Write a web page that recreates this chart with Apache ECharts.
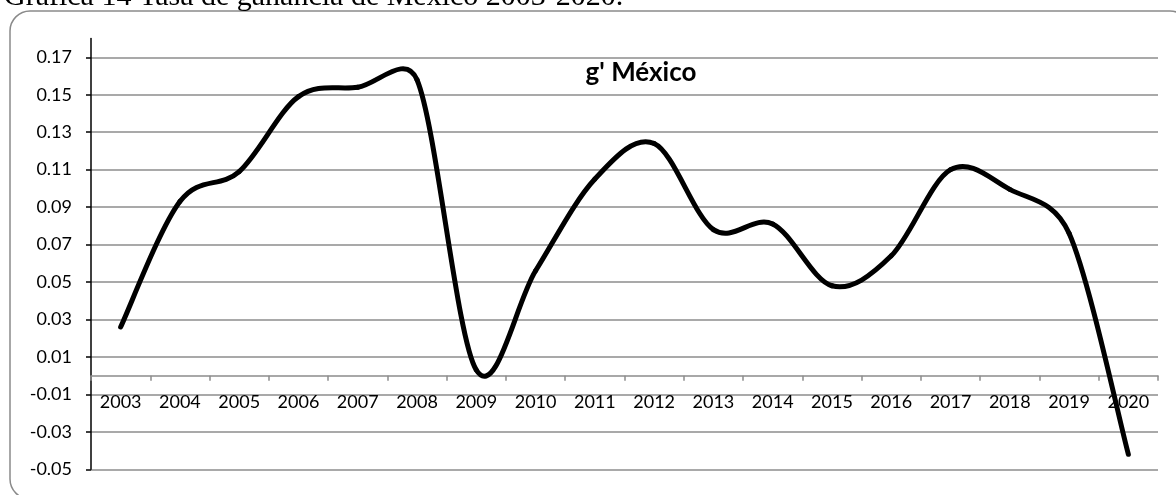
<!DOCTYPE html>
<html>
<head>
<meta charset="utf-8">
<script src="https://cdn.jsdelivr.net/npm/echarts@6/dist/echarts.min.js"></script>
<style>
  html, body { margin: 0; padding: 0; background: #ffffff; }
  #chart { width: 1176px; height: 495px; }
</style>
</head>
<body>
<div id="chart"></div>
<script>
// Profit rate for Mexico, yearly
const years = ['2003', '2004', '2005', '2006', '2007', '2008', '2009', '2010', '2011',
               '2012', '2013', '2014', '2015', '2016', '2017', '2018', '2019', '2020'];
const profitRate = [0.026, 0.093, 0.109, 0.149, 0.154, 0.158, 0.003, 0.056, 0.105,
                    0.124, 0.078, 0.081, 0.048, 0.064, 0.110, 0.0995, 0.076, -0.042];
const yTicks = [-0.05, -0.03, -0.01, 0.01, 0.03, 0.05, 0.07, 0.09, 0.11, 0.13, 0.15, 0.17];

const captionText = 'Gráfica 14 Tasa de ganancia de México 2003-2020.';
const seriesTitle = "g' México";

const Y_MIN = -0.05, Y_MAX = 0.18;
const GRID = { left: 91, right: 18, top: 38.6, bottom: 25.7 };
const H = 495;
// lift the category axis so it crosses the value axis at zero
const plotHeight = H - GRID.top - GRID.bottom;
const zeroOffset = -((0 - Y_MIN) / (Y_MAX - Y_MIN)) * plotHeight;

const chart = echarts.init(document.getElementById('chart'), null, { renderer: 'canvas' });

const labelFont = { fontFamily: 'Lato', fontSize: 18, color: '#000000' };

// Smoothed line: cubic Bezier segments through every point, tangent taken from
// the two neighbours (1/6 of their distance), limited to half of each segment.
function pt(api, i) {
  const k = Math.max(0, Math.min(profitRate.length - 1, i));
  return api.coord([k, profitRate[k]]);
}
function ctrl(p, d, seg, sign) {
  let dx = d[0] / 6, dy = d[1] / 6;
  const len = Math.hypot(dx, dy);
  const lim = seg / 2;
  if (len > lim && len > 0) { dx *= lim / len; dy *= lim / len; }
  return [p[0] + sign * dx, p[1] + sign * dy];
}
function renderSegment(params, api) {
  const i = params.dataIndex;
  if (i >= profitRate.length - 1) return null;
  const p0 = pt(api, i - 1), p1 = pt(api, i), p2 = pt(api, i + 1), p3 = pt(api, i + 2);
  const seg = Math.hypot(p2[0] - p1[0], p2[1] - p1[1]);
  const c1 = ctrl(p1, [p2[0] - p0[0], p2[1] - p0[1]], seg, 1);
  const c2 = ctrl(p2, [p3[0] - p1[0], p3[1] - p1[1]], seg, -1);
  return {
    type: 'bezierCurve',
    shape: { x1: p1[0], y1: p1[1], cpx1: c1[0], cpy1: c1[1], cpx2: c2[0], cpy2: c2[1], x2: p2[0], y2: p2[1] },
    style: { stroke: '#000000', lineWidth: 5, fill: null, lineCap: 'round', lineJoin: 'round' }
  };
}

chart.setOption({
  animation: false,
  backgroundColor: '#ffffff',
  grid: { left: GRID.left, right: GRID.right, top: GRID.top, bottom: GRID.bottom, containLabel: false },
  xAxis: {
    type: 'category',
    data: years,
    boundaryGap: true,
    offset: zeroOffset,
    axisLine: { show: true, onZero: false, lineStyle: { color: '#8c8c8c', width: 1.5 } },
    axisTick: { show: true, inside: false, length: 5, lineStyle: { color: '#8c8c8c', width: 1.5 } },
    axisLabel: Object.assign({ margin: 18, interval: 0 }, labelFont),
    splitLine: { show: false }
  },
  yAxis: {
    type: 'value',
    min: Y_MIN,
    max: Y_MAX,
    axisLine: { show: true, onZero: false, lineStyle: { color: '#000000', width: 1.5 } },
    axisTick: { show: true, length: 5, customValues: yTicks, lineStyle: { color: '#000000', width: 1.5 } },
    axisLabel: Object.assign({
      margin: 19,
      customValues: yTicks,
      formatter: v => v.toFixed(2)
    }, labelFont),
    splitLine: { show: true, lineStyle: { color: '#8c8c8c', width: 1.5 } }
  },
  series: [{
    type: 'custom',
    name: seriesTitle,
    data: years.map((y, i) => [i, profitRate[i]]),
    encode: { x: 0, y: 1 },
    renderItem: renderSegment,
    clip: false,
    z: 5
  }],
  graphic: [
    {
      type: 'rect',
      silent: true,
      shape: { x: 10, y: 11, width: 1180, height: 488, r: 20 },
      style: { fill: 'none', stroke: '#8a8a8a', lineWidth: 1.5 }
    },
    {
      type: 'text',
      silent: true,
      x: 4, y: -3,
      style: {
        text: captionText,
        font: '30px "Liberation Serif"',
        fill: '#000000',
        align: 'left',
        verticalAlign: 'middle'
      }
    },
    {
      type: 'text',
      silent: true,
      x: 641, y: 73,
      style: {
        text: seriesTitle,
        font: 'bold 26px Lato',
        fill: '#000000',
        align: 'center',
        verticalAlign: 'middle'
      }
    }
  ]
});
</script>
</body>
</html>
